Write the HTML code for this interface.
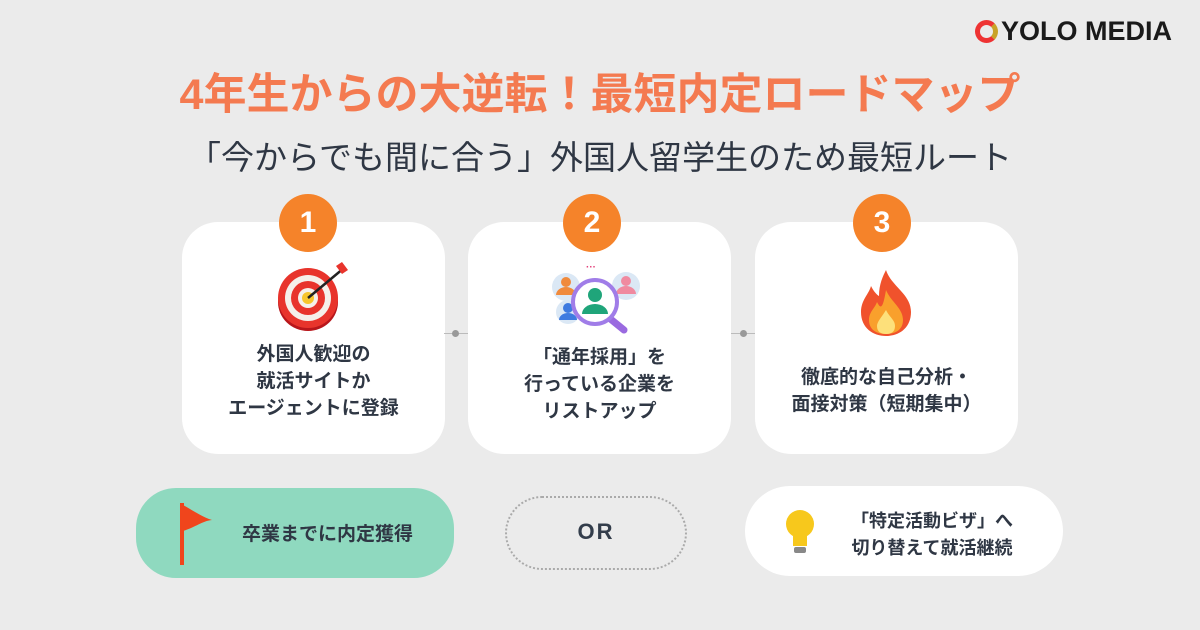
<!DOCTYPE html>
<html><head><meta charset="utf-8"><style>
*{margin:0;padding:0;box-sizing:border-box}
body{width:1200px;height:630px;background:#ebebeb;position:relative;overflow:hidden;font-family:"Liberation Sans","Noto Sans CJK JP",sans-serif;color:#2f3744}
.abs{position:absolute}
.card{position:absolute;top:222px;width:263px;height:232px;background:#fff;border-radius:36px}
.badge{position:absolute;top:194px;width:58px;height:58px;border-radius:50%;background:#f5832a;color:#fff;font-weight:bold;font-size:30px;text-align:center;line-height:58px}
.ct{position:absolute;width:263px;text-align:center;font-weight:bold;font-size:19px;line-height:27px}
.dot{position:absolute;width:7px;height:7px;border-radius:50%;background:#999;top:330px}
.ln{position:absolute;height:1px;background:#bbb;top:333px}
</style></head><body>
<div class="abs" style="left:975px;top:16px;font-weight:900;font-size:27px;color:#1a1a1a;white-space:nowrap">
<span style="display:inline-block;width:23px;height:23px;border-radius:50%;border:5px solid #e33;border-right-color:#c9a227;vertical-align:-3px;margin-right:3px"></span>YOLO MEDIA</div>
<div class="abs" style="left:0;width:1200px;top:60px;text-align:center;font-size:43px;font-weight:bold;color:#f47a50;white-space:nowrap">4年生からの大逆転！最短内定ロードマップ</div>
<div class="abs" style="left:0;width:1200px;top:131px;text-align:center;font-size:33px;color:#2f3744;white-space:nowrap">「今からでも間に合う」外国人留学生のため最短ルート</div>

<div class="card" style="left:182px"></div>
<div class="card" style="left:468px"></div>
<div class="card" style="left:755px"></div>
<div class="ln" style="left:444px;width:24px"></div><div class="dot" style="left:452px"></div>
<div class="ln" style="left:731px;width:24px"></div><div class="dot" style="left:740px"></div>
<div class="badge" style="left:279px">1</div>
<div class="badge" style="left:563px">2</div>
<div class="badge" style="left:853px">3</div>

<svg class="abs" style="left:276px;top:262px" width="75" height="70" viewBox="0 0 75 70">
<ellipse cx="32" cy="40" rx="30" ry="29" fill="#b8161b"/>
<circle cx="32" cy="36" r="30" fill="#e8342c"/><circle cx="32" cy="36" r="23" fill="#f5f0ea"/>
<circle cx="32" cy="36" r="17" fill="#e8342c"/><circle cx="32" cy="36" r="10" fill="#f5f0ea"/>
<circle cx="32" cy="36" r="6" fill="#f7c52c"/>
<line x1="32" y1="36" x2="68" y2="6" stroke="#222" stroke-width="2.5"/>
<path d="M60 4 L66 0 L72 8 L66 12Z" fill="#e8342c"/></svg>
<div class="ct" style="left:182px;top:341px">外国人歓迎の<br>就活サイトか<br>エージェントに登録</div>

<svg class="abs" style="left:548px;top:262px" width="95" height="75" viewBox="0 0 95 75">
<text x="38" y="8" fill="#e3407a" font-size="10" font-weight="bold" font-family="Liberation Sans">···</text>
<circle cx="18" cy="25" r="14" fill="#dbe8f5"/><circle cx="18" cy="20" r="5" fill="#f08a3c"/><path d="M8 33 a10 8 0 0 1 20 0Z" fill="#f08a3c"/>
<circle cx="78" cy="24" r="14" fill="#dbe8f5"/><circle cx="78" cy="19" r="5" fill="#f08aa0"/><path d="M68 32 a10 8 0 0 1 20 0Z" fill="#f08aa0"/>
<circle cx="20" cy="50" r="12" fill="#dbe8f5"/><circle cx="20" cy="46" r="5" fill="#3f7be0"/><path d="M11 58 a9 7 0 0 1 18 0Z" fill="#3f7be0"/>
<line x1="60" y1="55" x2="76" y2="68" stroke="#9a6ae0" stroke-width="7" stroke-linecap="round"/>
<circle cx="47" cy="40" r="22" fill="#fff" stroke="#a07de8" stroke-width="4"/>
<circle cx="47" cy="33" r="7" fill="#1fa57a"/><path d="M34 52 a13 10 0 0 1 26 0Z" fill="#1fa57a"/></svg>
<div class="ct" style="left:468px;top:344px">「通年採用」を<br>行っている企業を<br>リストアップ</div>

<svg class="abs" style="left:857px;top:268px" width="58" height="70" viewBox="0 0 58 70">
<path d="M29 2 C34 18 54 26 54 44 C54 60 42 68 29 68 C16 68 4 60 4 44 C4 32 12 26 14 18 C18 26 22 28 22 28 C22 16 26 8 29 2Z" fill="#f0522c"/>
<path d="M29 22 C34 34 46 40 46 52 C46 62 38 66 29 66 C20 66 12 62 12 52 C12 44 18 40 20 34 C24 42 26 40 29 22Z" fill="#f9a02c"/>
<path d="M29 42 C33 50 38 52 38 58 C38 64 34 66 29 66 C24 66 20 64 20 58 C20 54 24 50 29 42Z" fill="#fde07a"/></svg>
<div class="ct" style="left:755px;top:364px">徹底的な自己分析・<br>面接対策（短期集中）</div>

<div class="abs" style="left:136px;top:488px;width:318px;height:90px;border-radius:40px;background:#8fd9bf"></div>
<svg class="abs" style="left:178px;top:503px" width="44" height="62"><rect x="2" y="0" width="4" height="62" fill="#f0451c"/><path d="M5 2 C16 8 24 14 34 17 C24 18 18 24 5 28Z" fill="#f0451c"/></svg>
<div class="abs" style="left:242px;top:519px;font-weight:bold;font-size:19px;white-space:nowrap">卒業までに内定獲得</div>

<div class="abs" style="left:505px;top:496px;width:182px;height:74px;border-radius:37px;border:2px dotted #aaa"></div>
<div class="abs" style="left:505px;top:519px;width:182px;text-align:center;font-weight:bold;font-size:22px;letter-spacing:2px;color:#333d4b">OR</div>

<div class="abs" style="left:745px;top:486px;width:318px;height:90px;border-radius:45px;background:#fff"></div>
<svg class="abs" style="left:782px;top:508px" width="36" height="48"><circle cx="18" cy="16" r="14" fill="#f7c81c"/><rect x="11" y="26" width="14" height="12" fill="#f7c81c"/><rect x="12" y="39" width="12" height="6" rx="2" fill="#888"/></svg>
<div class="abs" style="left:826px;top:508px;width:212px;text-align:center;font-weight:bold;font-size:18px;line-height:27px;white-space:nowrap">「特定活動ビザ」へ<br>切り替えて就活継続</div>
</body></html>
